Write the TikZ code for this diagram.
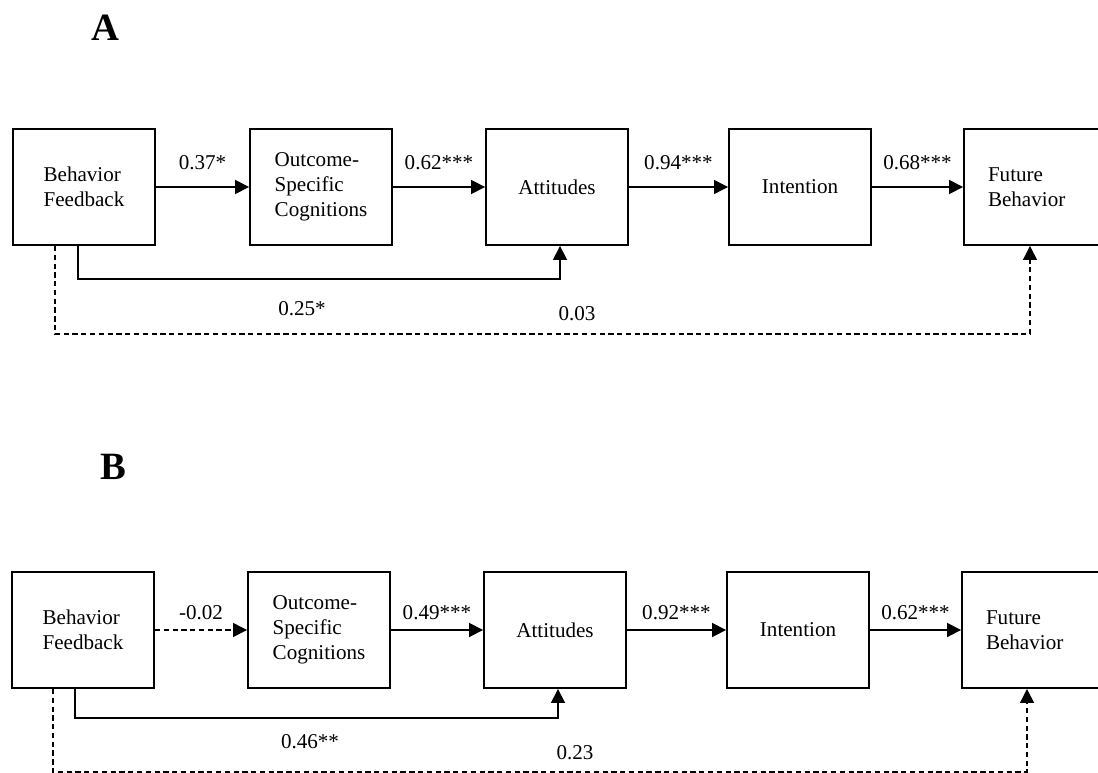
\documentclass[tikz,border=0pt]{standalone}
\usepackage{fontspec}
\setmainfont{Liberation Serif}
\usetikzlibrary{arrows.meta}

\begin{document}
\begin{tikzpicture}[x=0.02cm,y=-0.02cm,
    box/.style={draw, line width=1.1pt, minimum width=2.84cm, minimum height=2.32cm,
      align=left, font=\fontsize{12}{14.2}\selectfont},
    lastbox/.style={box, text width=1.88cm, inner xsep=0.48cm},
    effect/.style={line width=1pt, -{Triangle[length=0.28cm,width=0.28cm]}},
    weakeffect/.style={effect, line width=0.7pt, dash pattern=on 3pt off 2pt},
    coef/.style={font=\fontsize{12}{14.2}\selectfont},
    panel/.style={font=\bfseries\fontsize{22}{26}\selectfont}]
      \useasboundingbox (0,0) rectangle (1098,773);
      \clip (0,0) rectangle (1098,773);

      % Panel A
      \node[panel] (panA) at (105,28) {A};

      \node[box] (bfA) at (84,187) {Behavior\\Feedback};
      \node[box] (ocA) at (321,187) {Outcome-\\Specific\\Cognitions};
      \node[box] (atA) at (557,187) {Attitudes};
      \node[box] (inA) at (800,187) {Intention};
      \node[lastbox] (fbA) at (1035,187) {Future\\Behavior};

      \draw[effect] (bfA) -- node[coef, above=6pt] {0.37*} (ocA);
      \draw[effect] (ocA) -- node[coef, above=6pt] {0.62***} (atA);
      \draw[effect, line width=0.7pt] (atA) -- node[coef, above=6pt] {0.94***} (inA);
      \draw[effect] (inA) -- node[coef, above=6pt] {0.68***} (fbA);

      % direct paths from feedback
      \draw[effect] ([xshift=-0.12cm]bfA.south) |- ([xshift=0.06cm,yshift=-0.66cm]atA.south)
        -- ([xshift=0.06cm]atA.south);
      \draw[weakeffect] ([xshift=-0.58cm]bfA.south) |- ([xshift=-0.1cm,yshift=-1.76cm]fbA.south)
        -- ([xshift=-0.1cm]fbA.south);
      \node[coef] (dirA1) at (302,309) {0.25*};
      \node[coef] (dirA2) at (577,314) {0.03};

      % Panel B
      \node[panel] (panB) at (113,467) {B};

      \node[box] (bfB) at (83,630) {Behavior\\Feedback};
      \node[box] (ocB) at (319,630) {Outcome-\\Specific\\Cognitions};
      \node[box] (atB) at (555,630) {Attitudes};
      \node[box] (inB) at (798,630) {Intention};
      \node[lastbox] (fbB) at (1033,630) {Future\\Behavior};

      \draw[weakeffect] (bfB) -- node[coef, above=2pt] {-0.02} (ocB);
      \draw[effect] (ocB) -- node[coef, above=2pt] {0.49***} (atB);
      \draw[effect] (atB) -- node[coef, above=2pt] {0.92***} (inB);
      \draw[effect] (inB) -- node[coef, above=2pt] {0.62***} (fbB);

      % direct paths from feedback
      \draw[effect] ([xshift=-0.16cm]bfB.south) |- ([xshift=0.06cm,yshift=-0.58cm]atB.south)
        -- ([xshift=0.06cm]atB.south);
      \draw[weakeffect] ([xshift=-0.6cm]bfB.south) |- ([xshift=-0.12cm,yshift=-1.66cm]fbB.south)
        -- ([xshift=-0.12cm]fbB.south);
      \node[coef] (dirB1) at (310,742) {0.46**};
      \node[coef] (dirB2) at (575,753) {0.23};
\end{tikzpicture}
\end{document}
